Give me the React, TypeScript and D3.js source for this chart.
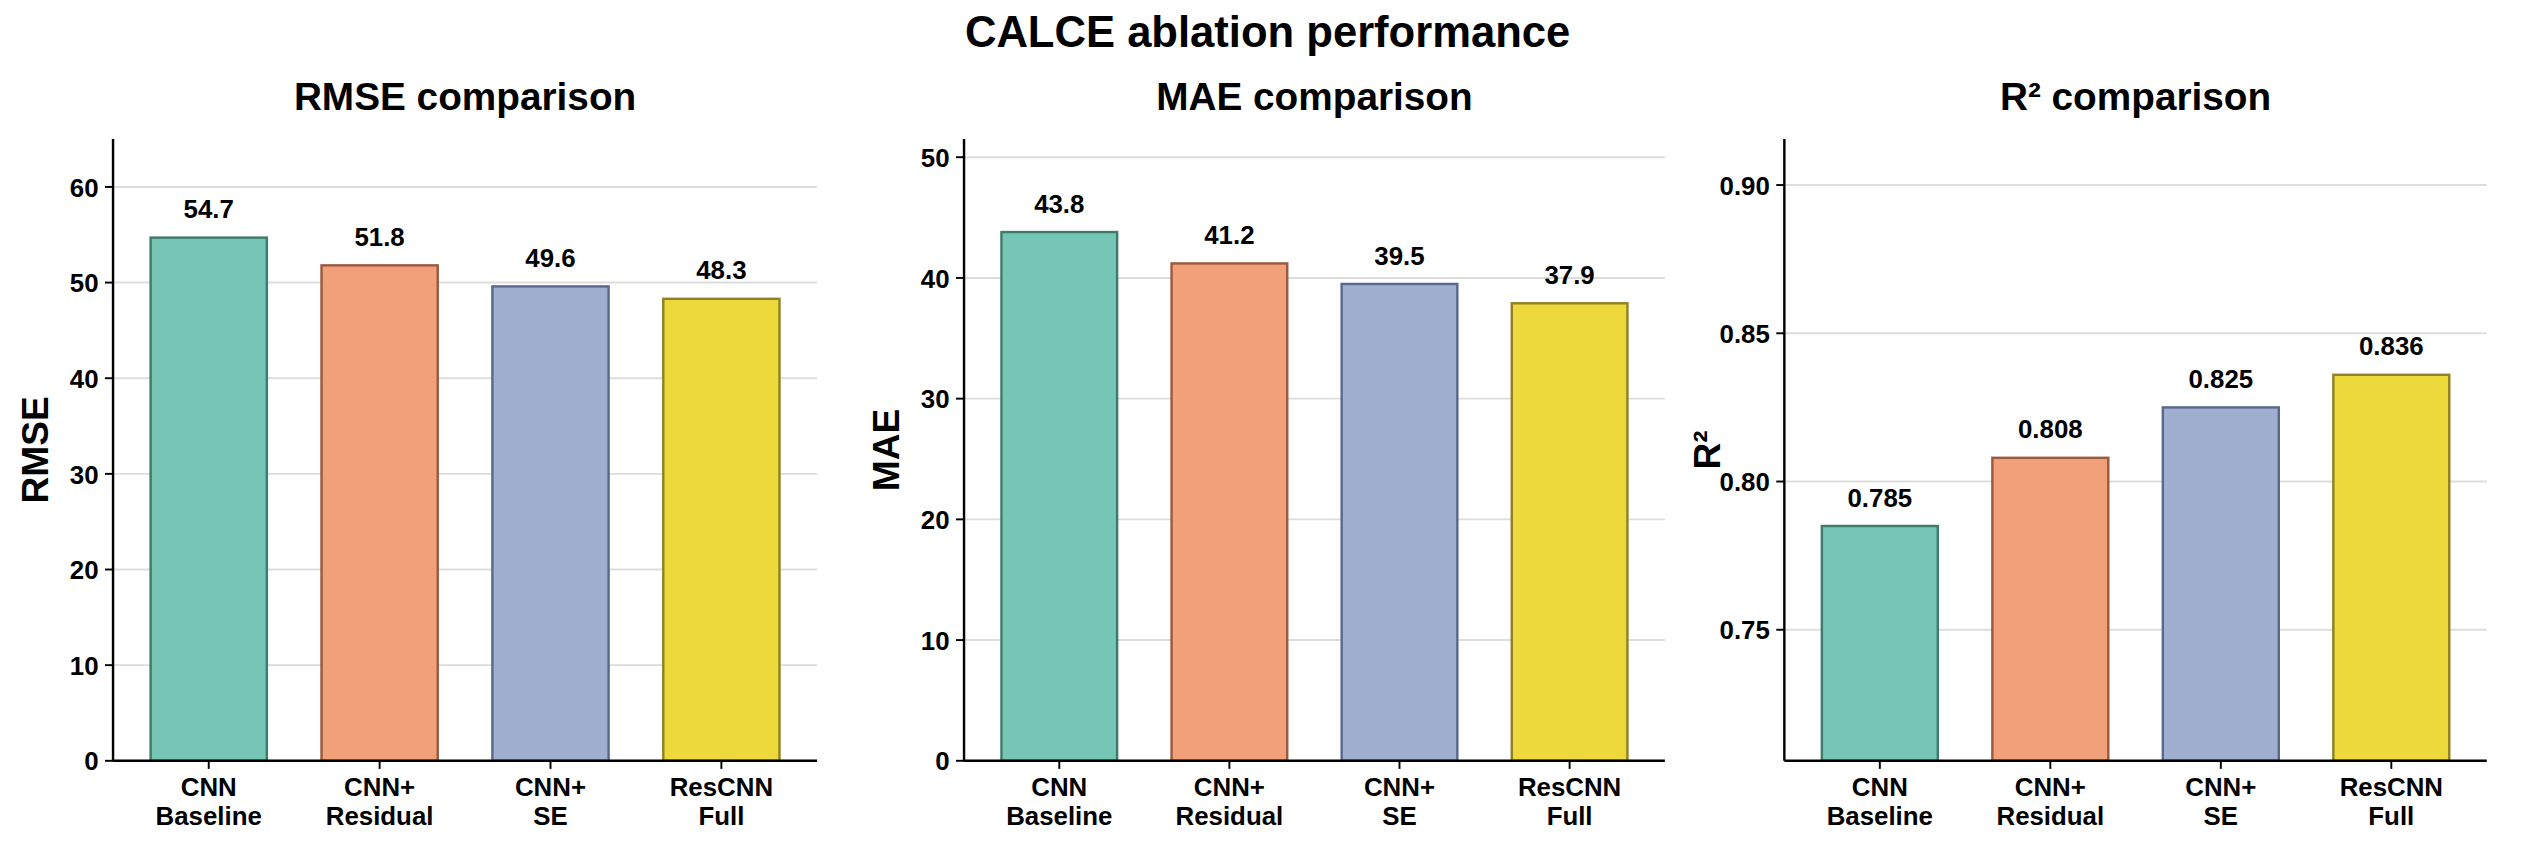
import React from "react";
import * as d3 from "d3";

const categories = [["CNN", "Baseline"], ["CNN+", "Residual"], ["CNN+", "SE"], ["ResCNN", "Full"]];
const rmse = [54.7, 51.8, 49.6, 48.3];
const mae = [43.8, 41.2, 39.5, 37.9];
const r2 = [0.785, 0.808, 0.825, 0.836];
const fills = ["#76c6b6", "#f1a07a", "#a0aed0", "#eed93c"];
const strokes = ["#3f7a6d", "#9a5a3e", "#5a6890", "#8f8125"];

const panels = [
  { title: "RMSE comparison", ylabel: "RMSE", data: rmse, domain: [0, 65], ticks: [0, 10, 20, 30, 40, 50, 60], fmt: (v: number) => v.toFixed(1), tfmt: (v: number) => String(v), x0: 70, x1: 506 },
  { title: "MAE comparison", ylabel: "MAE", data: mae, domain: [0, 51.5], ticks: [0, 10, 20, 30, 40, 50], fmt: (v: number) => v.toFixed(1), tfmt: (v: number) => String(v), x0: 597, x1: 1031 },
  { title: "R² comparison", ylabel: "R²", data: r2, domain: [0.7058, 0.9155], ticks: [0.75, 0.8, 0.85, 0.9], fmt: (v: number) => v.toFixed(3), tfmt: (v: number) => v.toFixed(2), x0: 1105, x1: 1540 },
];

const yTop = 86, yBot = 471;
const font = "Liberation Sans, Arial, sans-serif";

export default function App() {
  return (
    <svg width={2532} height={845} viewBox="0 0 1568 523" style={{ display: "block", background: "#fff", margin: -8 }} fontFamily={font}>
      <text x={785} y={29} textAnchor="middle" fontSize={27} fontWeight="bold">CALCE ablation performance</text>
      {panels.map((p, pi) => {
        const x = d3.scaleLinear().domain([-0.56, 3.56]).range([p.x0, p.x1]);
        const y = d3.scaleLinear().domain(p.domain).range([yBot, yTop]);
        const bw = x(0.68) - x(0);
        return (
          <g key={pi}>
            <text x={(p.x0 + p.x1) / 2} y={68} textAnchor="middle" fontSize={24} fontWeight="bold">{p.title}</text>
            {p.ticks.map((t) => (
              <g key={t}>
                <line x1={p.x0} x2={p.x1} y1={y(t)} y2={y(t)} stroke="#dddddd" strokeWidth={1.2} />
                <line x1={p.x0 - 5} x2={p.x0} y1={y(t)} y2={y(t)} stroke="#000" strokeWidth={1.2} />
                <text x={p.x0 - 9} y={y(t) + 6} textAnchor="end" fontSize={16} fontWeight="bold">{p.tfmt(t)}</text>
              </g>
            ))}
            {p.data.map((v, i) => (
              <g key={i}>
                <rect x={x(i) - bw / 2} y={y(v)} width={bw} height={yBot - y(v)} fill={fills[i]} stroke={strokes[i]} strokeWidth={1.5} />
                <text x={x(i)} y={y(v) - 12} textAnchor="middle" fontSize={16} fontWeight="bold">{p.fmt(v)}</text>
                <line x1={x(i)} x2={x(i)} y1={yBot} y2={yBot + 5} stroke="#000" strokeWidth={1.2} />
                <text x={x(i)} y={yBot + 22} textAnchor="middle" fontSize={16} fontWeight="bold">{categories[i][0]}</text>
                <text x={x(i)} y={yBot + 40} textAnchor="middle" fontSize={16} fontWeight="bold">{categories[i][1]}</text>
              </g>
            ))}
            <line x1={p.x0} x2={p.x0} y1={yTop} y2={yBot} stroke="#000" strokeWidth={1.5} />
            <line x1={p.x0} x2={p.x1} y1={yBot} y2={yBot} stroke="#000" strokeWidth={1.5} />
            <text transform={`translate(${p.x0 - 40},${(yTop + yBot) / 2}) rotate(-90)`} textAnchor="middle" fontSize={23} fontWeight="bold">{p.ylabel}</text>
          </g>
        );
      })}
    </svg>
  );
}
